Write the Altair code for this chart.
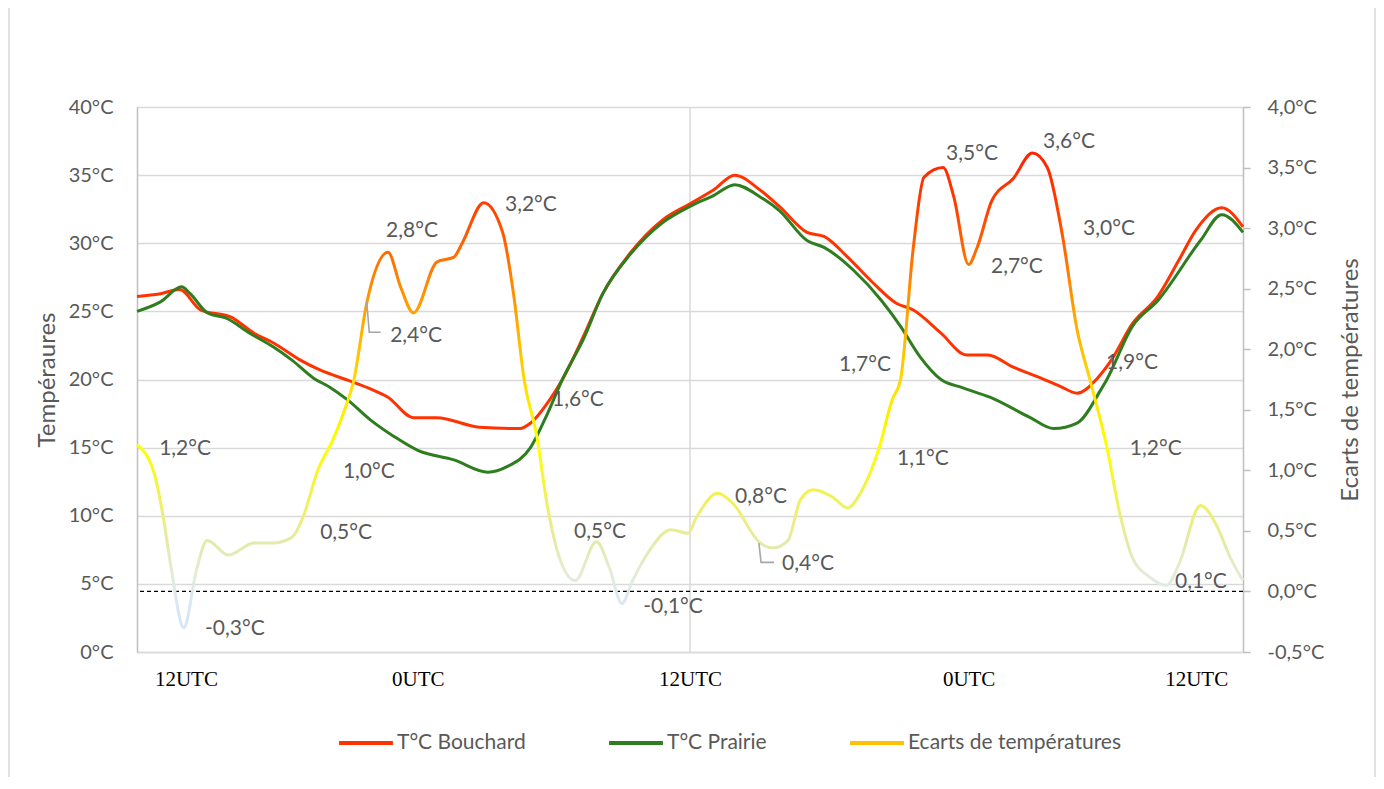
import altair as alt
import pandas as pd

# ---------------- data ----------------
# hours from the start of the record (left edge of the plot)
bouchard_h = [0.0, 1.1, 2.0, 3.0, 4.4, 5.5, 6.4, 7.7, 8.6, 10.0, 11.0, 11.8, 13.0, 14.1, 16.1,
              18.0, 18.5, 19.4, 20.0, 21.0, 21.9, 23.2, 24.7, 26.0, 27.1, 28.1, 29.3, 30.2,
              31.5, 32.3, 33.4, 34.6, 35.7, 36.5, 37.8, 39.0, 40.0, 41.2, 42.5, 43.4, 44.2,
              45.1, 45.8, 46.8, 48.0, 49.0, 49.8, 51.0, 52.0]
bouchard_t = [26.1, 26.3, 26.6, 25.1, 24.6, 23.4, 22.7, 21.4, 20.7, 19.9, 19.3, 18.7, 17.2, 17.2,
              16.5, 16.4, 16.8, 18.5, 20.0, 23.2, 26.3, 29.3, 31.7, 32.9, 33.9, 35.0, 33.9, 32.7,
              30.8, 30.5, 29.0, 27.1, 25.6, 25.1, 23.4, 21.8, 21.8, 20.9, 20.1, 19.5, 19.0, 20.0,
              21.4, 24.1, 26.1, 28.8, 31.0, 32.6, 31.2]

prairie_h = [0.0, 1.1, 2.1, 2.5, 3.3, 4.2, 5.3, 6.4, 7.3, 8.3, 9.1, 9.9, 11.0, 12.1, 13.2, 14.9,
             16.5, 17.4, 18.5, 19.3, 20.0, 21.0, 21.9, 23.2, 24.7, 26.0, 27.1, 28.1, 29.3, 30.2,
             31.5, 32.3, 33.7, 35.0, 35.9, 36.8, 37.8, 38.8, 40.1, 42.0, 43.1, 44.2, 45.3, 45.6,
             46.8, 48.0, 50.0, 51.0, 52.0]
prairie_t = [25.0, 25.7, 26.8, 26.3, 24.9, 24.5, 23.4, 22.4, 21.4, 20.1, 19.4, 18.5, 17.0, 15.8,
             14.8, 14.1, 13.2, 13.6, 15.0, 17.5, 20.0, 23.0, 26.3, 29.2, 31.5, 32.7, 33.5, 34.3,
             33.4, 32.4, 30.2, 29.7, 28.0, 25.8, 23.9, 21.7, 20.0, 19.4, 18.7, 17.2, 16.4, 16.8,
             19.2, 20.0, 23.9, 25.8, 30.2, 32.1, 30.8]

ecart_h = [0.0, 0.8, 1.2, 1.6, 2.2, 2.8, 3.3, 4.3, 5.5, 6.4, 7.3, 7.8, 8.5, 9.2, 9.7, 10.2, 10.8,
           11.8, 12.4, 13.0, 14.1, 14.9, 15.3, 16.3, 17.2, 17.7, 18.2, 18.8, 19.3, 19.9, 20.6,
           21.6, 22.2, 22.8, 23.3, 24.1, 25.1, 25.9, 26.3, 27.3, 28.0, 29.3, 29.9, 30.6, 31.2,
           31.8, 32.7, 33.4, 34.1, 34.9, 35.5, 35.9, 36.5, 37.0, 37.9, 38.4, 39.1, 39.5, 40.2,
           41.2, 42.1, 42.8, 43.5, 44.2, 44.8, 45.6, 46.2, 46.8, 47.6, 48.4, 49.0, 50.0, 50.8,
           51.4, 52.0]
ecart_e = [1.21, 0.98, 0.65, 0.20, -0.30, 0.18, 0.42, 0.30, 0.40, 0.40, 0.45, 0.61, 1.00, 1.25,
           1.47, 1.75, 2.38, 2.80, 2.51, 2.30, 2.72, 2.76, 2.88, 3.21, 2.96, 2.46, 1.75, 1.28,
           0.70, 0.26, 0.09, 0.41, 0.20, -0.10, 0.09, 0.34, 0.51, 0.48, 0.61, 0.81, 0.73, 0.40,
           0.36, 0.42, 0.76, 0.84, 0.78, 0.69, 0.84, 1.19, 1.58, 1.75, 2.84, 3.42, 3.50, 3.26,
           2.70, 2.84, 3.23, 3.41, 3.62, 3.50, 2.95, 2.16, 1.75, 1.19, 0.65, 0.28, 0.12, 0.05,
           0.23, 0.71, 0.53, 0.28, 0.09]

# data labels of the "Ecarts" series (placed on the right axis scale)
label_text = ["1,2°C", "-0,3°C", "0,5°C", "1,0°C", "2,8°C", "2,4°C", "3,2°C", "1,6°C", "0,5°C",
              "-0,1°C", "0,8°C", "0,4°C", "1,7°C", "1,1°C", "3,5°C", "2,7°C", "3,6°C", "3,0°C",
              "1,9°C", "1,2°C", "0,1°C"]
label_h = [2.26, 4.60, 9.83, 10.90, 12.93, 13.12, 18.52, 20.73, 21.77, 25.20, 29.34, 31.55,
           34.23, 36.95, 39.26, 41.37, 43.82, 45.70, 46.78, 47.90, 50.02]
label_e = [1.18, -0.31, 0.48, 0.99, 2.98, 2.11, 3.19, 1.58, 0.49, -0.13, 0.78, 0.23, 1.87, 1.09,
           3.61, 2.68, 3.71, 2.99, 1.89, 1.18, 0.08]

# leader lines of two labels
leader_id = ["a", "a", "a", "b", "b", "b"]
leader_seq = [0, 1, 2, 0, 1, 2]
leader_h = [10.80, 10.92, 11.46, 29.24, 29.34, 29.95]
leader_e = [2.39, 2.14, 2.14, 0.40, 0.24, 0.24]

tick_hours = [2.3, 13.2, 26.0, 39.1, 49.8]
tick_labels = ["12UTC", "0UTC", "12UTC", "0UTC", "12UTC"]
midday_rule_h = [26.0]

series_names = ["T°C Bouchard", "T°C Prairie", "Ecarts de températures"]
series_colors = ["#FF3300", "#2E7D1F", "#FFC000"]

left_ticks = [0, 5, 10, 15, 20, 25, 30, 35, 40]
right_ticks = [-0.5, 0.0, 0.5, 1.0, 1.5, 2.0, 2.5, 3.0, 3.5, 4.0]

# colour of the "Ecarts" line as a function of its value
grad_e = [3.6, 3.2, 2.8, 2.4, 2.0, 1.6, 1.2, 0.9, 0.6, 0.4, 0.15, -0.05, -0.3]
grad_c = ["#FF2400", "#FF3C00", "#FF6A00", "#FF9900", "#FFC000", "#FFE600", "#FFFF00",
          "#F4F43C", "#ECEE7E", "#E4EAA8", "#E4ECD6", "#DCE8F2", "#D6E4F5"]

# ---------------- tables ----------------
temps_df = pd.concat([
    pd.DataFrame({"h": bouchard_h, "t": bouchard_t, "series": series_names[0]}),
    pd.DataFrame({"h": prairie_h, "t": prairie_t, "series": series_names[1]}),
], ignore_index=True)
ecart_df = pd.DataFrame({"h": ecart_h, "e": ecart_e})
label_df = pd.DataFrame({"h": label_h, "e": label_e, "txt": label_text})
leader_df = pd.DataFrame({"h": leader_h, "e": leader_e, "id": leader_id, "seq": leader_seq})
zero_df = pd.DataFrame({"e": [0.0]})
vrule_df = pd.DataFrame({"h": midday_rule_h})

e_max, e_min = max(ecart_e), min(ecart_e)
stops = []
for ev, col in zip(grad_e, grad_c):
    off = (e_max - ev) / (e_max - e_min)
    off = min(1.0, max(0.0, off))
    stops.append(alt.GradientStop(color=col, offset=off))
gradient = alt.Gradient(gradient="linear", stops=stops, x1=0, x2=0, y1=0, y2=1)

# ---------------- scales & axes ----------------
FONT = "Lato"
GREY = "#595959"

x_scale = alt.Scale(domain=[0, 52], nice=False, zero=False)
label_expr = ("[" + ",".join(f"'{t}'" for t in tick_labels) + "][indexof(["
              + ",".join(str(v) for v in tick_hours) + "], datum.value)]")
x_axis = alt.Axis(values=tick_hours, labelExpr=label_expr, title=None, ticks=False, grid=False,
                  domainColor="#D9D9D9", domainWidth=1.5, labelFont="Liberation Serif",
                  labelFontSize=21, labelColor="#000000", labelPadding=16, labelFlush=False,
                  labelOverlap=False)
X = alt.X("h:Q", scale=x_scale, axis=x_axis)

t_scale = alt.Scale(domain=[0, 40], nice=False, zero=False)
left_axis = alt.Axis(values=left_ticks, labelExpr="datum.value + '°C'", title="Tempéraures",
                     orient="left", titleFont=FONT, titleFontSize=24, titleColor=GREY,
                     titleFontWeight="normal", titlePadding=9, labelFont=FONT, labelFontSize=20,
                     labelColor=GREY, labelPadding=24, ticks=False, grid=True,
                     gridColor="#D9D9D9", gridWidth=1.5, domainColor="#BFBFBF", domainWidth=1.5)

e_scale = alt.Scale(domain=[-0.5, 4.0], nice=False, zero=False)
right_axis = alt.Axis(values=right_ticks,
                      labelExpr="replace(replace(format(datum.value, '.1f'), '.', ','), '\u2212', '-') + '°C'",
                      title="Ecarts de températures", orient="right", titleAngle=270,
                      titleFont=FONT, titleFontSize=24, titleColor=GREY, titleFontWeight="normal",
                      titlePadding=39, labelFont=FONT, labelFontSize=20, labelColor=GREY,
                      labelPadding=17, ticks=True, tickSize=7, tickColor="#BFBFBF", tickWidth=1.5,
                      grid=False, domainColor="#BFBFBF", domainWidth=1.5)
YE = alt.Y("e:Q", scale=e_scale, axis=right_axis)

# ---------------- layers ----------------
vrule = alt.Chart(vrule_df).mark_rule(color="#D9D9D9", strokeWidth=1.5).encode(x=X)

temps = alt.Chart(temps_df).mark_line(strokeWidth=3, interpolate="monotone").encode(
    x=X,
    y=alt.Y("t:Q", scale=t_scale, axis=left_axis),
    color=alt.Color("series:N",
                    scale=alt.Scale(domain=series_names, range=series_colors),
                    legend=alt.Legend(title=None, orient="none", legendX=200, legendY=607,
                                      direction="horizontal", symbolType="stroke",
                                      symbolStrokeWidth=4, symbolSize=2900, labelFont=FONT,
                                      labelFontSize=21, labelColor=GREY, labelOffset=2,
                                      labelLimit=0, columnPadding=75)),
)

zero = alt.Chart(zero_df).mark_rule(color="#000000", strokeDash=[4, 3], strokeWidth=1.3).encode(y=YE)

ecart = alt.Chart(ecart_df).mark_line(strokeWidth=3, interpolate="monotone", color=gradient).encode(
    x=X, y=YE)

leaders = alt.Chart(leader_df).mark_line(color="#A6A6A6", strokeWidth=1.6).encode(
    x=X, y=YE, detail="id:N", order="seq:Q")

labels = alt.Chart(label_df).mark_text(font=FONT, fontSize=21, color=GREY, align="center",
                                       baseline="middle").encode(x=X, y=YE, text="txt:N")

frame = alt.Chart(pd.DataFrame({"a": [0]})).mark_rect(
    fillOpacity=0, stroke="#D9D9D9", strokeWidth=1.5).encode(
    x=alt.value(-128), x2=alt.value(1238), y=alt.value(-300), y2=alt.value(900))

left = alt.layer(vrule, temps)
right = alt.layer(zero, ecart, leaders, labels)

chart = alt.layer(left, right, frame).resolve_scale(y="independent").properties(
    width=1106, height=545,
    autosize=alt.AutoSizeParams(type="none"),
    padding={"left": 129, "top": 99, "right": 133, "bottom": 125},
).configure_view(stroke="transparent").configure(background="white")

chart.save("out.html", embed_options={"renderer": "svg", "actions": False})
